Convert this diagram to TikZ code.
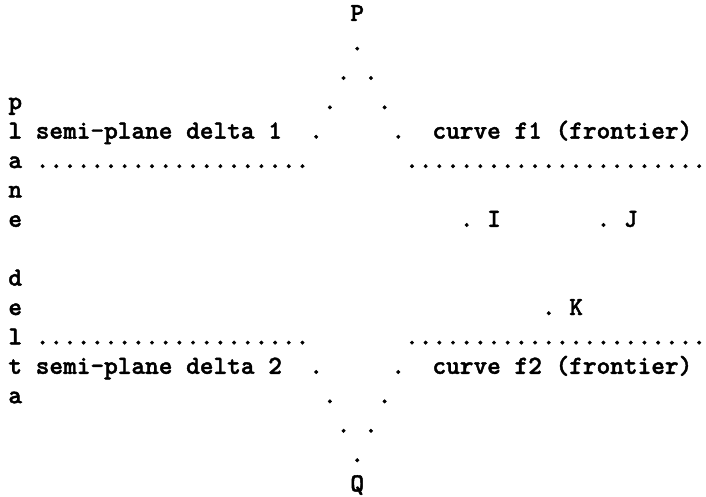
\documentclass[tikz,border=0pt]{standalone}
\usepackage{fontspec}
\newfontfamily\ascfont{lmmonolt10-bold}[Extension=.otf, FakeBold=1.6]
\newcommand\gx[1]{8.2+13.68*#1}
\newcommand\gy[1]{475-29.4*#1}
\newcommand\tx[4]{\node[asc] (#1) at ({\gx{#2}},{\gy{#3}}) {#4};}
\begin{document}
\begin{tikzpicture}[x=1pt,y=1pt,
  asc/.style={font=\ascfont\fontsize{26.05}{26.05}\selectfont, inner sep=0pt, anchor=base west}]
\fill[white] (0,0) rectangle (706,496);
\useasboundingbox (0,0) rectangle (706,496);
% diamond
\tx{P}{25}{0}{P}
\tx{t1}{25}{1}{.}
\tx{t2l}{24}{2}{.}\tx{t2r}{26}{2}{.}
\tx{t3l}{23}{3}{.}\tx{t3r}{27}{3}{.}
\tx{t4l}{22}{4}{.}\tx{t4r}{28}{4}{.}
\tx{b4l}{22}{12}{.}\tx{b4r}{28}{12}{.}
\tx{b3l}{23}{13}{.}\tx{b3r}{27}{13}{.}
\tx{b2l}{24}{14}{.}\tx{b2r}{26}{14}{.}
\tx{b1}{25}{15}{.}
\tx{Q}{25}{16}{Q}
% vertical word
\tx{v1}{0}{3}{p}
\tx{v2}{0}{4}{l}
\tx{v3}{0}{5}{a}
\tx{v4}{0}{6}{n}
\tx{v5}{0}{7}{e}
\tx{v6}{0}{9}{d}
\tx{v7}{0}{10}{e}
\tx{v8}{0}{11}{l}
\tx{v9}{0}{12}{t}
\tx{v10}{0}{13}{a}
% labels
\tx{sp1}{2}{4}{semi-plane delta 1}
\tx{sp2}{2}{12}{semi-plane delta 2}
\tx{cf1}{31}{4}{curve f1 (frontier)}
\tx{cf2}{31}{12}{curve f2 (frontier)}
% frontier lines
\tx{l1}{2}{5}{....................}
\tx{r1}{29}{5}{......................}
\tx{l2}{2}{11}{....................}
\tx{r2}{29}{11}{......................}
% points
\tx{dI}{33}{7}{.}\tx{I}{35}{7}{I}
\tx{dJ}{43}{7}{.}\tx{J}{45}{7}{J}
\tx{dK}{39}{10}{.}\tx{K}{41}{10}{K}
\end{tikzpicture}
\end{document}
